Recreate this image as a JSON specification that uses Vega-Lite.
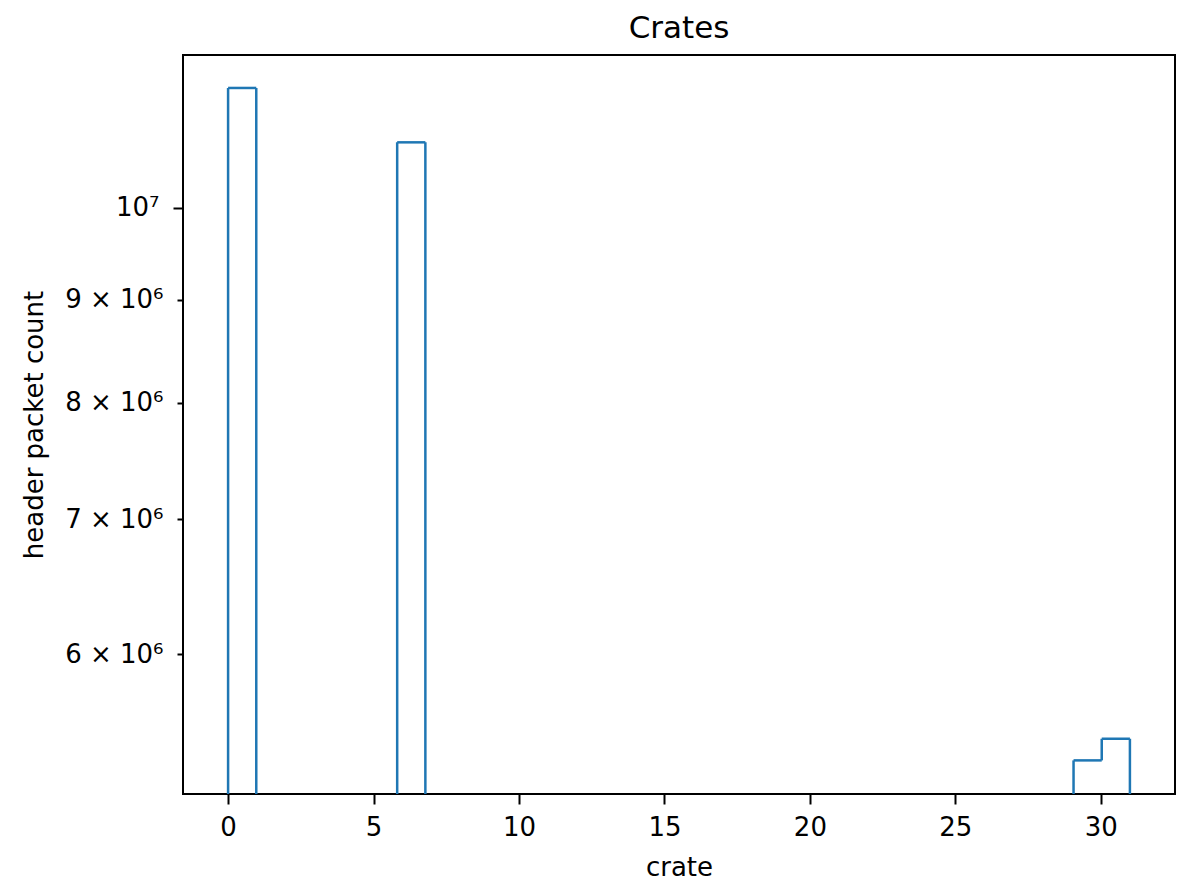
{
  "$schema": "https://vega.github.io/schema/vega-lite/v6.json",
  "width": 992,
  "height": 739,
  "autosize": {"type": "none"},
  "padding": {"left": 183, "top": 55, "right": 14, "bottom": 88},
  "background": "white",
  "title": {
    "text": "Crates",
    "font": "DejaVu Sans",
    "fontSize": 31,
    "fontWeight": "normal",
    "color": "black",
    "anchor": "middle",
    "frame": "group",
    "baseline": "alphabetic",
    "offset": 18,
    "dy": 32
  },
  "config": {
    "view": {"stroke": "black", "strokeWidth": 2},
    "axis": {
      "domain": false,
      "grid": false,
      "labelFont": "DejaVu Sans",
      "labelFontSize": 26,
      "labelColor": "black",
      "titleFont": "DejaVu Sans",
      "titleFontSize": 26,
      "titleFontWeight": "normal",
      "titleColor": "black",
      "tickColor": "black",
      "tickWidth": 2
    }
  },
  "datasets": {
    "bins": [
      {"start": 0, "end": 0.96875, "count": 11469000},
      {"start": 5.8125, "end": 6.78125, "count": 10777000},
      {"start": 29.0625, "end": 30.03125, "count": 5312200},
      {"start": 30.03125, "end": 31, "count": 5445400}
    ],
    "edges": [
      {"edge": 0, "upper": 11469000, "lower": null},
      {"edge": 0.96875, "upper": 11469000, "lower": null},
      {"edge": 5.8125, "upper": 10777000, "lower": null},
      {"edge": 6.78125, "upper": 10777000, "lower": null},
      {"edge": 29.0625, "upper": 5312200, "lower": null},
      {"edge": 30.03125, "upper": 5445400, "lower": 5312200},
      {"edge": 31, "upper": 5445400, "lower": null}
    ]
  },
  "layer": [
    {
      "data": {"name": "bins"},
      "mark": {"type": "rule", "color": "#1f77b4", "strokeWidth": 2.5, "clip": true},
      "encoding": {
        "x": {
          "field": "start", "type": "quantitative",
          "scale": {"domain": [-1.55, 32.55], "nice": false, "zero": false},
          "axis": {"values": [0, 5, 10, 15, 20, 25, 30], "title": "crate", "tickSize": 10, "labelPadding": 10, "titleY": 81, "titleBaseline": "alphabetic", "format": "d"}
        },
        "x2": {"field": "end"},
        "y": {
          "field": "count", "type": "quantitative",
          "scale": {"type": "log", "domain": [5111700, 11910000], "nice": false, "zero": false},
          "axis": {
            "values": [6000000, 7000000, 8000000, 9000000, 10000000],
            "title": "header packet count",
            "tickSize": {"condition": {"test": "datum.value == 10000000", "value": 10}, "value": 6},
            "labelPadding": 14,
            "titleX": -141,
            "titleBaseline": "alphabetic",
            "labelExpr": "datum.value == 10000000 ? '10⁷' : format(datum.value / 1000000, 'd') + ' × 10⁶'"
          }
        }
      }
    },
    {
      "data": {"name": "edges"},
      "transform": [{"filter": "datum.lower == null"}],
      "mark": {"type": "rule", "color": "#1f77b4", "strokeWidth": 2.5, "clip": true},
      "encoding": {
        "x": {"field": "edge", "type": "quantitative"},
        "y": {"field": "upper", "type": "quantitative"},
        "y2": {"value": "height"}
      }
    },
    {
      "data": {"name": "edges"},
      "transform": [{"filter": "datum.lower != null"}],
      "mark": {"type": "rule", "color": "#1f77b4", "strokeWidth": 2.5, "clip": true},
      "encoding": {
        "x": {"field": "edge", "type": "quantitative"},
        "y": {"field": "upper", "type": "quantitative"},
        "y2": {"field": "lower"}
      }
    }
  ]
}
